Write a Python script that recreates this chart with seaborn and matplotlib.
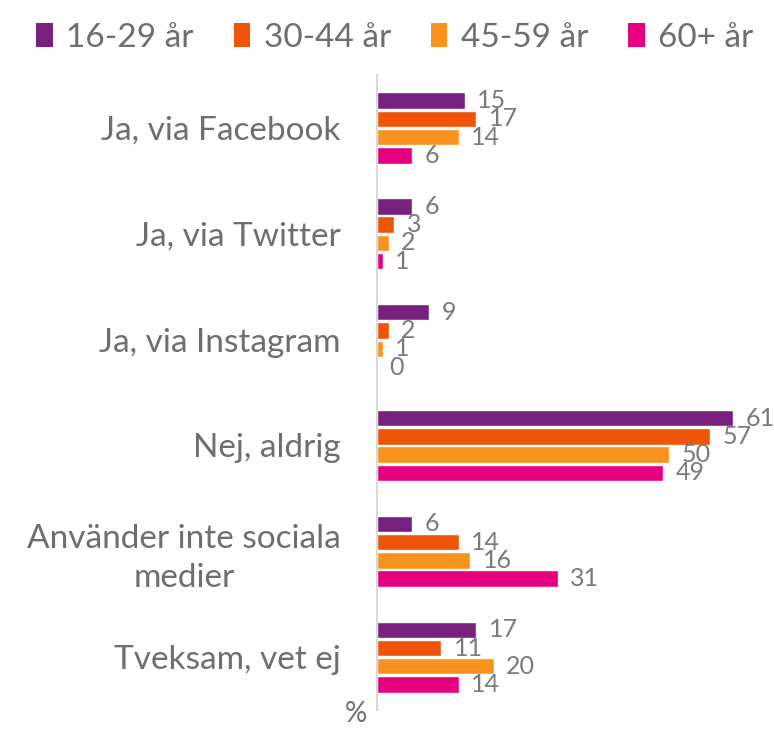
import matplotlib
matplotlib.use("Agg")
import matplotlib.pyplot as plt
from matplotlib.patches import Patch
import pandas as pd
import seaborn as sns

CATEGORIES = [
    "Ja, via Facebook",
    "Ja, via Twitter",
    "Ja, via Instagram",
    "Nej, aldrig",
    "Använder inte sociala\nmedier",
    "Tveksam, vet ej",
]
GROUPS = ["16-29 år", "30-44 år", "45-59 år", "60+ år"]
AGE_16_29 = [15, 6, 9, 61, 6, 17]
AGE_30_44 = [17, 3, 2, 57, 14, 11]
AGE_45_59 = [14, 2, 1, 50, 16, 20]
AGE_60_PLUS = [6, 1, 0, 49, 31, 14]

_COLORS = ["#78207D", "#EE5506", "#F7931E", "#E5007D"]
_TEXT = "#6E6E6E"

df = pd.DataFrame({
    "category": CATEGORIES * 4,
    "group": [g for g in GROUPS for _ in CATEGORIES],
    "value": AGE_16_29 + AGE_30_44 + AGE_45_59 + AGE_60_PLUS,
})

sns.set_style("white")
plt.rcParams["font.family"] = ["Lato", "DejaVu Sans"]

fig = plt.figure(figsize=(7.74, 7.29), dpi=100)
ax = fig.add_axes([0.487, 0.026, 0.513, 0.871])

sns.barplot(
    data=df, y="category", x="value", hue="group",
    order=CATEGORIES, hue_order=GROUPS, palette=_COLORS,
    orient="h", width=0.69, gap=0.1, legend=False, ax=ax,
    saturation=1,
)

for container in ax.containers:
    ax.bar_label(container, fmt="%d", padding=9, fontsize=18, color="#7A7A7A")

ax.set_xlim(0, 68)
ax.set_ylim(5.5, -0.5)
ax.set_xticks([])
ax.set_xlabel("")
ax.set_ylabel("")
ax.tick_params(axis="y", length=0, pad=26, labelsize=24, labelcolor=_TEXT)
for label in ax.get_yticklabels():
    label.set_horizontalalignment("right")
    label.set_multialignment("center")
    label.set_linespacing(1.35)

for side in ["top", "right", "bottom"]:
    ax.spines[side].set_visible(False)
ax.spines["left"].set_color("#D9D9D9")
ax.spines["left"].set_linewidth(1.5)

fig.text(0.46, 0.02, "%", fontsize=20, color=_TEXT, ha="center", va="center")

handles = [Patch(facecolor=c, edgecolor="none") for c in _COLORS]
fig.legend(
    handles, GROUPS, loc="upper center", bbox_to_anchor=(0.51, 1.01), ncol=4,
    frameon=False, fontsize=24, labelcolor=_TEXT,
    handlelength=0.5, handleheight=0.7, handletextpad=0.4, columnspacing=1.2,
)

fig.savefig("out.png", dpi=100)
